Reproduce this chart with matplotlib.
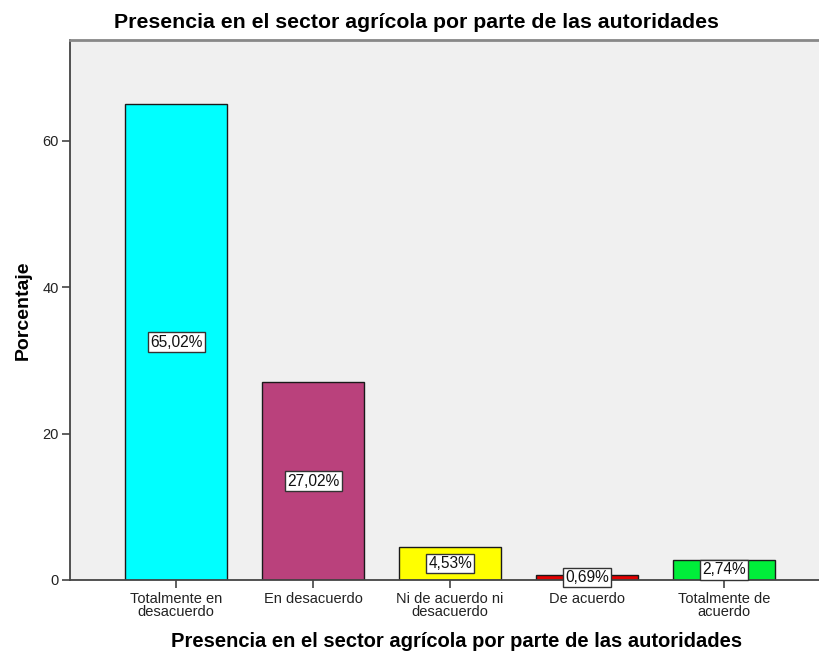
import matplotlib
matplotlib.use("Agg")
import matplotlib.pyplot as plt

categories = ["Totalmente en\ndesacuerdo", "En desacuerdo", "Ni de acuerdo ni\ndesacuerdo", "De acuerdo", "Totalmente de\nacuerdo"]
values = [65.02, 27.02, 4.53, 0.69, 2.74]
labels = ["65,02%", "27,02%", "4,53%", "0,69%", "2,74%"]
colors = ["#00FFFF", "#BA417C", "#FFFF00", "#E30000", "#00EE3A"]

plt.rcParams['font.family'] = ['Liberation Sans', 'DejaVu Sans']

fig = plt.figure(figsize=(8.2, 6.53), dpi=100)
ax = fig.add_axes([0.0854, 0.1118, 0.9146, 0.8269])
ax.set_facecolor("#F0F0F0")

x = list(range(len(values)))
ax.bar(x, values, width=0.75, color=colors, edgecolor="#1a1a1a", linewidth=1.0, zorder=2)
for xi, v, lab in zip(x, values, labels):
    ax.text(xi, v / 2, lab, ha="center", va="center", fontsize=11.2, color="#111111", zorder=3,
            bbox=dict(boxstyle="square,pad=0.15", facecolor="white", edgecolor="#333333", linewidth=1.0))

ax.set_xlim(-0.774, 4.70)
ax.set_ylim(0, 73.8)
ax.set_yticks([0, 20, 40, 60])
ax.set_xticks(x)
ax.set_xticklabels(categories, fontsize=10.5, linespacing=0.9)
ax.tick_params(axis='y', labelsize=10.5, length=6, width=1.2, color="#444444", labelcolor="#222222", direction='out', pad=2)
ax.tick_params(axis='x', length=6, width=1.2, color="#444444", labelcolor="#222222", direction='out', pad=3)

for s in ["left", "bottom"]:
    ax.spines[s].set_color("#444444")
    ax.spines[s].set_linewidth(1.3)
ax.spines["top"].set_color("#888888")
ax.spines["top"].set_linewidth(2.0)
ax.spines["right"].set_visible(False)

ax.set_ylabel("Porcentaje", fontsize=14, fontweight="bold", labelpad=8)
ax.set_xlabel("Presencia en el sector agrícola por parte de las autoridades", fontsize=14.5, fontweight="bold",
              va="center")
ax.xaxis.set_label_coords(0.5 - (820 * 0.0854 / 2 - 0) / (820 * 0.9146) + (457 - 70 - (820 * 0.9146) / 2) / (820 * 0.9146) + (820 * 0.0854 / 2) / (820 * 0.9146), -0.113)
fig.text(0.508, 0.966, "Presencia en el sector agrícola por parte de las autoridades", ha="center", va="center",
         fontsize=15.3, fontweight="bold")

fig.savefig("out.png", dpi=100)
